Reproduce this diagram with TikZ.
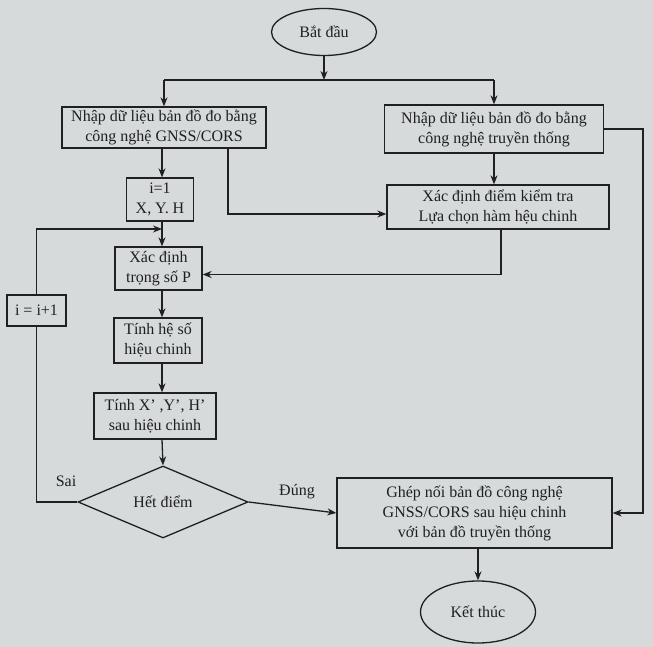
\documentclass[tikz,border=0pt]{standalone}
\usepackage{fontspec}
\setmainfont{Liberation Serif}
\usetikzlibrary{shapes.geometric, arrows.meta}
\definecolor{paper}{RGB}{214,218,219}
\definecolor{ink}{RGB}{32,32,32}
\begin{document}
\begin{tikzpicture}[>={Stealth[length=9pt, width=7pt]}, x=1pt, y=-1pt,
    font=\fontsize{16}{20}\selectfont,
    every node/.style={text=ink},
    line/.style={draw=ink, line width=1.3pt},
    box/.style={line, rectangle, align=center, inner sep=0pt},
    term/.style={line, ellipse, inner sep=0pt},
    test/.style={line, diamond, inner sep=0pt}]
        % paper
        \fill[paper] (0,0) rectangle (653,647);
        \useasboundingbox (0,0) rectangle (653,647);

        % start and the two inputs
        \node[term, minimum width=105pt, minimum height=47pt] (start) at (324, 32) {Bắt đầu};
        \node[box, minimum width=204pt, minimum height=41pt] (gnss) at (164, 127.5) {Nhập dữ liệu bản đồ đo bằng\\công nghệ GNSS/CORS};
        \node[box, minimum width=219pt, minimum height=48pt] (trad) at (494, 129) {Nhập dữ liệu bản đồ đo bằng\\công nghệ truyền thống};
        \node[box, minimum width=222pt, minimum height=44pt] (check) at (498, 207) {Xác định điểm kiểm tra\\Lựa chọn hàm hệu chinh};

        % left column
        \node[box, minimum width=67pt, minimum height=43pt] (init) at (160, 199.5) {i=1\\X, Y. H};
        \node[box, minimum width=87pt, minimum height=43pt] (weight) at (158.5, 268.5) {Xác định\\trọng số P};
        \node[box, minimum width=88pt, minimum height=45pt] (coef) at (158, 340.5) {Tính hệ số\\hiệu chinh};
        \node[box, minimum width=122pt, minimum height=46pt] (corr) at (155, 416) {Tính X' ,Y', H'\\sau hiệu chinh};
        \node[box, minimum width=59pt, minimum height=31pt] (incr) at (36.5, 310.5) {i = i+1};
        \node[test, minimum width=170pt, minimum height=72pt] (done) at (163, 502) {Hết điểm};

        % merge and end
        \node[box, minimum width=275pt, minimum height=70pt] (merge) at (474.5, 513) {Ghép nối bản đồ công nghệ\\GNSS/CORS sau hiệu chinh\\với bản đồ truyền thống};
        \node[term, minimum width=115pt, minimum height=62pt] (end) at (478, 612) {Kết thúc};

        % helper points
        \coordinate (fork) at (324, 80);
        \coordinate (rail) at (643, 300);
        \coordinate (col) at (162, 300);
        \coordinate (loopin) at (162, 229);

        % arrows from start
        \draw[line, ->] (start) -- (fork);
        \draw[line] (fork -| gnss) -- (fork -| trad.south);
        \draw[line, ->] (fork -| gnss) -- (gnss);
        \draw[line, ->] (fork -| trad.south) -- (trad);

        % right side
        \draw[line, ->] (trad.south) -- (trad.south |- check.north);
        \draw[line, ->] ([xshift=64pt]gnss.south) |- ([yshift=-7pt]check.west);
        \draw[line, ->] ([xshift=3pt]check.south) |- ([yshift=-6pt]weight.east);
        \draw[line, ->] (trad.east) -- (trad.east -| rail) |- (merge.east);

        % left column
        \draw[line, ->] (gnss.south -| col) -- (init.north -| col);
        \draw[line, ->] (init.south -| col) -- (weight.north -| col);
        \draw[line, ->] (weight.south -| col) -- (coef.north -| col);
        \draw[line, ->] (coef.south -| col) -- (corr.north -| col);
        \draw[line, ->] (corr.south -| col) -- (done.north);

        % decision
        \draw[line] (done.west) -| (incr.south);
        \draw[line, ->] (incr.north) |- (loopin);
        \node (sai) at (66, 481) {Sai};
        \draw[line, ->] (done.east) -- (merge.west);
        \node (dung) at (297, 492) {Đúng};
        \draw[line, ->] (merge.south -| end) -- (end);
\end{tikzpicture}
\end{document}
